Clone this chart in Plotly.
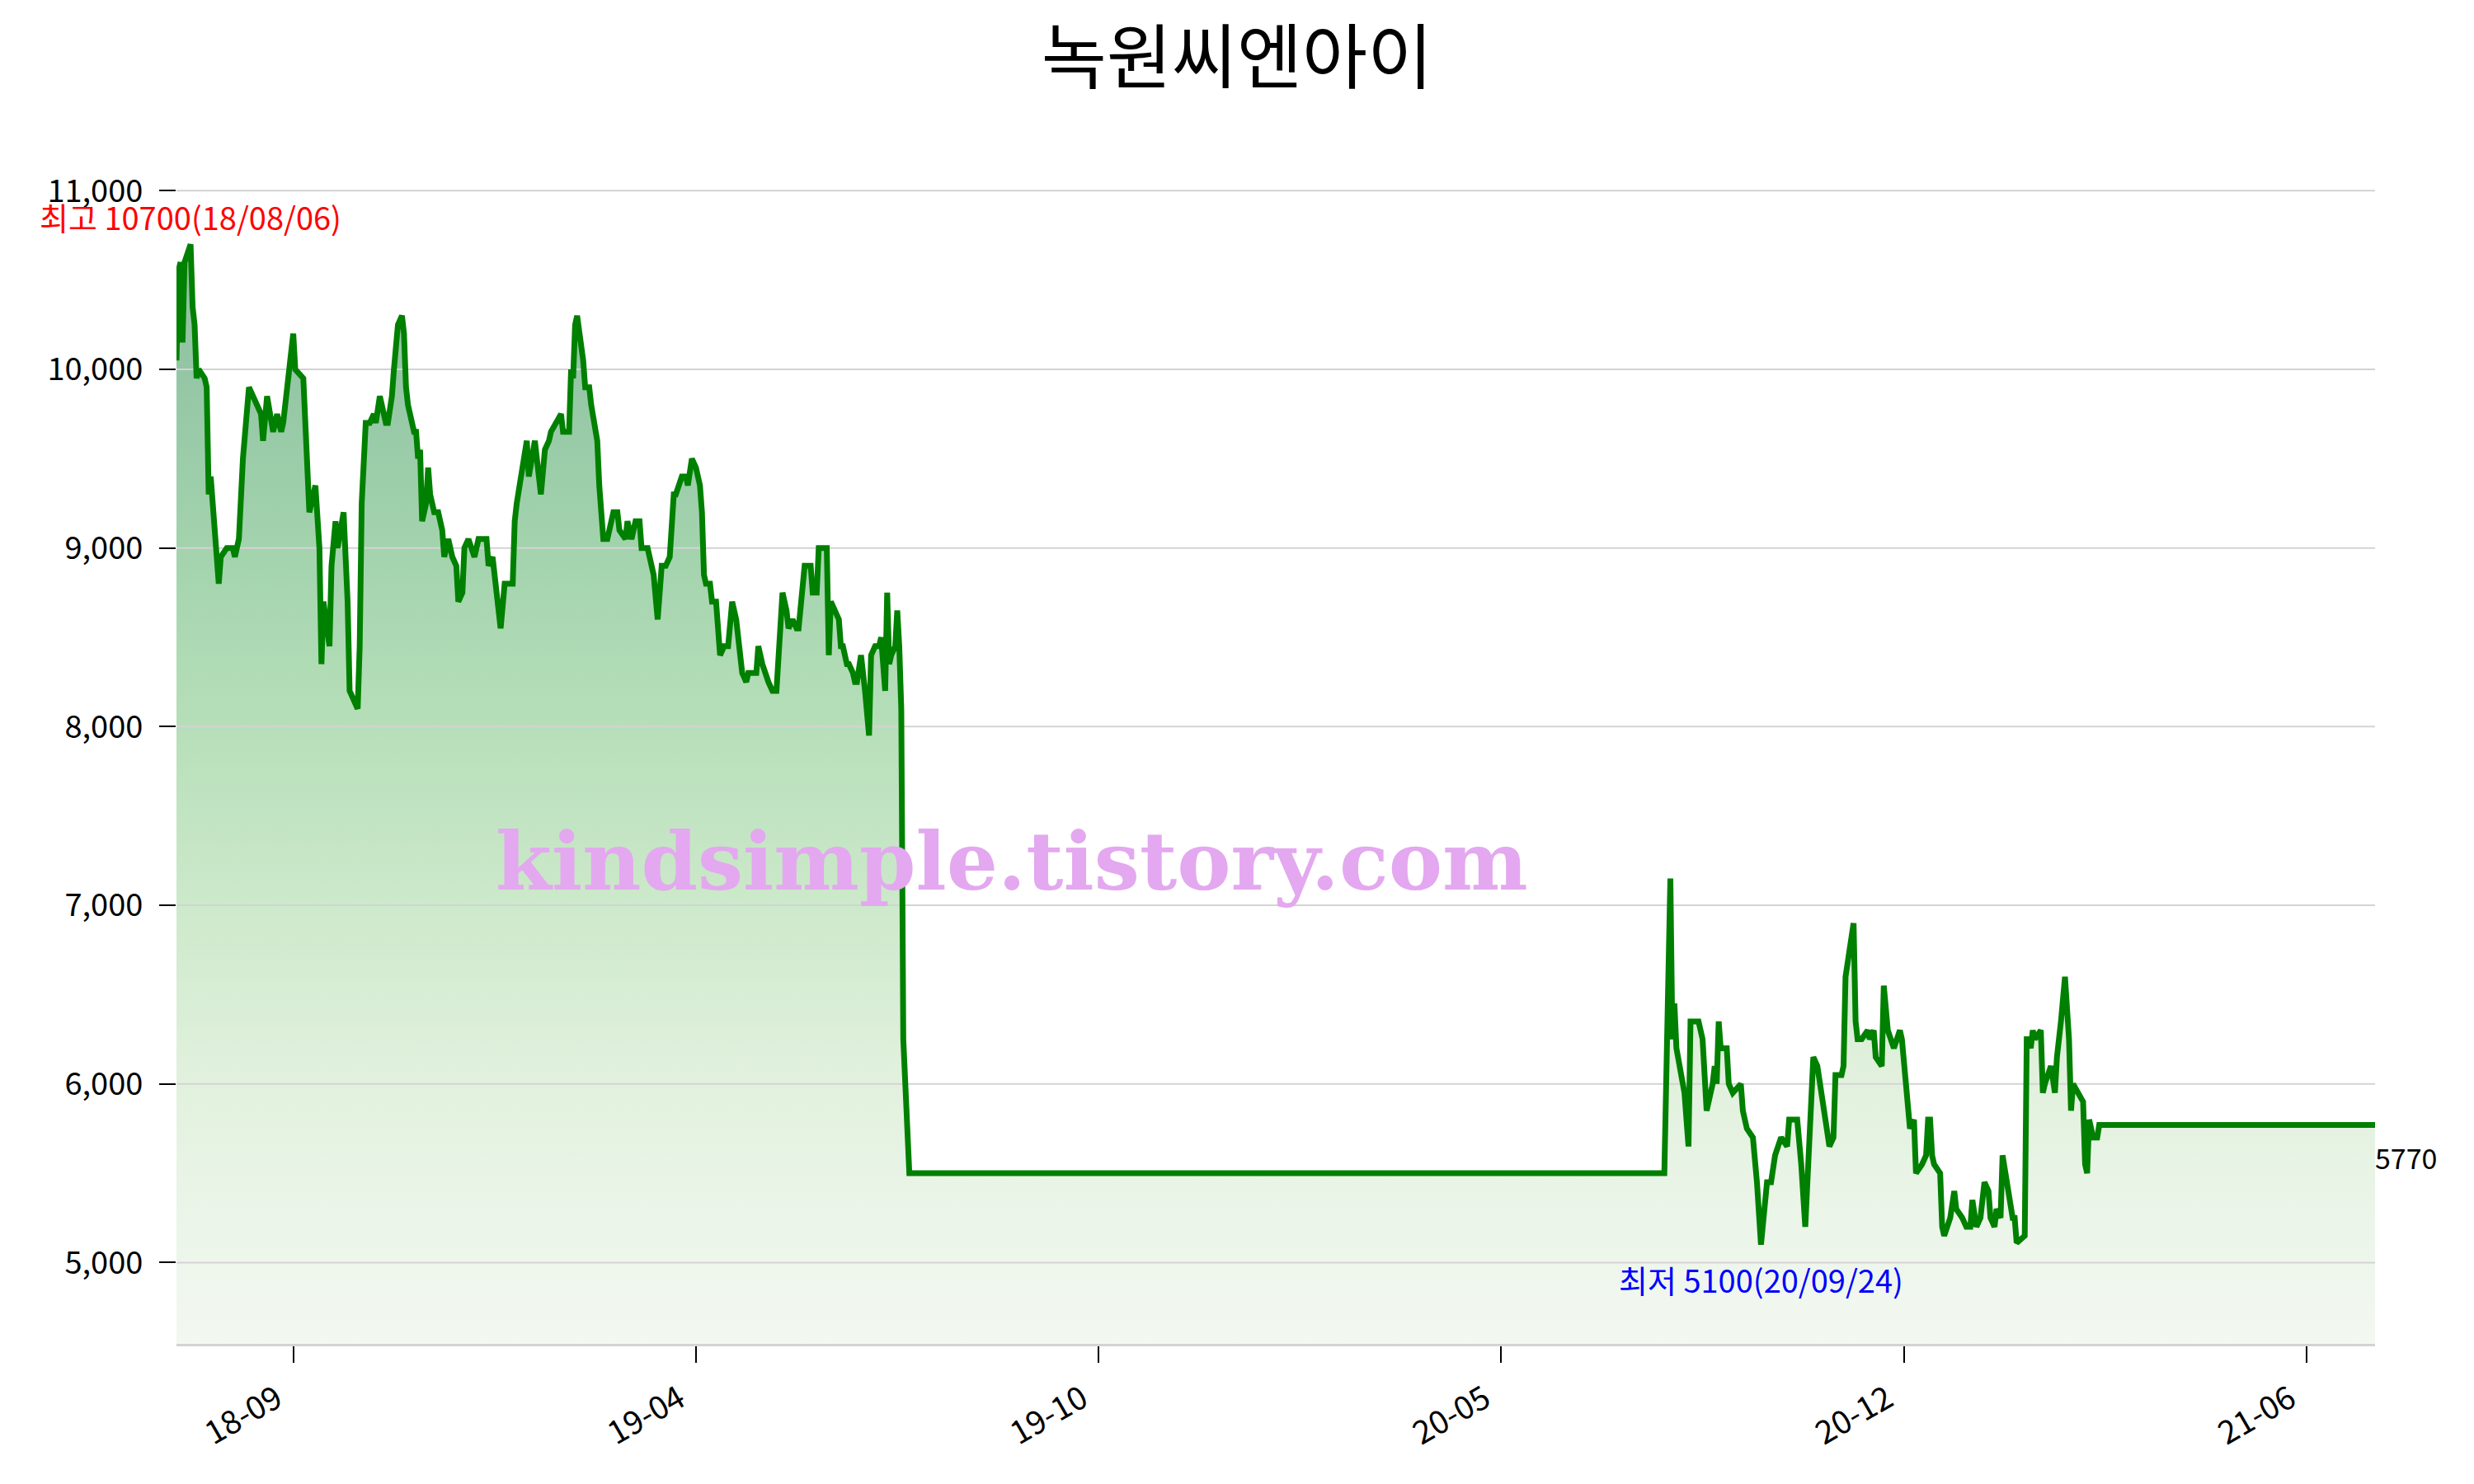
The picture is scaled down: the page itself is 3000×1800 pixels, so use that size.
import pandas as pd
import plotly.graph_objects as go

# ---------------- data ----------------
title_text = "녹원씨엔아이"
watermark_text = "kindsimple.tistory.com"
start_date = "2018-07-30"

# trading-day offsets (days since start_date)
day_offsets = [
    0, 1, 2, 3, 4, 7, 8, 9, 10, 11, 14, 15, 16, 17, 21, 22, 25, 28, 29, 31,
    33, 36, 38, 42, 43, 45, 48, 50, 52, 53, 56, 58, 59, 63, 64, 65, 66, 69, 71, 72,
    73, 76, 77, 79, 80, 83, 85, 86, 90, 91, 92, 94, 96, 98, 99, 101, 104, 105, 107, 108,
    110, 112, 113, 114, 115, 118, 119, 120, 121, 122, 124, 125, 126, 128, 130, 132, 133, 135, 137, 139,
    140, 142, 143, 145, 148, 150, 154, 155, 157, 161, 163, 167, 168, 169, 171, 174, 175, 178, 181, 183,
    185, 186, 191, 192, 195, 196, 197, 198, 199, 202, 203, 205, 206, 209, 210, 212, 214, 217, 219, 220,
    223, 224, 226, 228, 230, 231, 234, 236, 237, 239, 241, 243, 245, 247, 248, 251, 253, 254, 255, 256,
    258, 260, 261, 262, 263, 264, 265, 266, 268, 270, 272, 274, 276, 278, 280, 281, 283, 284, 286, 288,
    289, 291, 294, 296, 298, 301, 303, 304, 306, 308, 309, 312, 315, 316, 318, 319, 321, 323, 324, 325,
    327, 329, 330, 331, 333, 334, 336, 337, 338, 340, 342, 344, 345, 347, 349, 350, 351, 352, 353, 354,
    355, 357, 358, 359, 360, 361, 364, 739,
    742, 743, 744, 745, 749, 751, 752, 755, 756, 758, 760, 763, 764, 765, 766, 767, 770, 771, 773, 777,
    778, 780, 783, 785, 787, 790, 792, 794, 797, 800, 801, 805, 807, 809, 813, 815, 821, 823, 824, 827,
    828, 829, 833, 834, 835, 837, 840, 841, 843, 844, 847, 848, 850, 853, 856, 857, 861, 863, 864, 867,
    869, 870, 871, 872, 873, 876, 877, 878, 881, 883, 884, 887, 889, 891, 892, 894, 896, 898, 900, 901,
    903, 904, 906, 907, 909, 911, 912, 913, 914, 918, 919, 920, 921, 922, 923, 926, 927, 928, 931, 933,
    934, 936, 938, 940, 941, 942, 947, 948, 949, 950, 952, 954, 955, 1092,
]

close_prices = [
    10050, 10550, 10600, 10150, 10600, 10700, 10350, 10250, 9950, 10000, 9950, 9900, 9300, 9400, 8800, 8950, 9000, 9000, 8950, 9050,
    9500, 9900, 9850, 9750, 9600, 9850, 9650, 9750, 9650, 9700, 10000, 10200, 10000, 9950, 9700, 9450, 9200, 9350, 9000, 8350,
    8700, 8450, 8900, 9150, 9000, 9200, 8700, 8200, 8100, 8450, 9250, 9700, 9700, 9750, 9700, 9850, 9700, 9700, 9850, 10000,
    10250, 10300, 10200, 9900, 9800, 9650, 9650, 9500, 9550, 9150, 9250, 9450, 9300, 9200, 9200, 9100, 8950, 9050, 8950, 8900,
    8700, 8750, 9000, 9050, 8950, 9050, 9050, 8900, 8950, 8550, 8800, 8800, 9150, 9250, 9400, 9600, 9400, 9600, 9300, 9550,
    9600, 9650, 9750, 9650, 9650, 10000, 9950, 10250, 10300, 10050, 9900, 9900, 9800, 9600, 9350, 9050, 9050, 9200, 9200, 9100,
    9050, 9150, 9050, 9150, 9150, 9000, 9000, 8900, 8850, 8600, 8900, 8900, 8950, 9300, 9300, 9400, 9400, 9350, 9450, 9500,
    9450, 9350, 9200, 8850, 8800, 8800, 8800, 8700, 8700, 8400, 8450, 8450, 8700, 8600, 8400, 8300, 8250, 8300, 8300, 8300,
    8450, 8350, 8250, 8200, 8200, 8750, 8650, 8550, 8600, 8550, 8550, 8900, 8900, 8750, 8750, 9000, 9000, 9000, 8400, 8700,
    8650, 8600, 8450, 8450, 8350, 8350, 8300, 8250, 8250, 8400, 8200, 7950, 8400, 8450, 8450, 8500, 8350, 8200, 8750, 8350,
    8400, 8450, 8650, 8450, 8100, 6250, 5500, 5500,
    7150, 6250, 6450, 6200, 5950, 5650, 6350, 6350, 6350, 6250, 5850, 6000, 6100, 6000, 6350, 6200, 6200, 6000, 5950, 6000,
    5850, 5750, 5700, 5450, 5100, 5450, 5450, 5600, 5700, 5650, 5800, 5800, 5550, 5200, 6150, 6100, 5650, 5700, 6050, 6050,
    6100, 6600, 6900, 6350, 6250, 6250, 6300, 6250, 6300, 6150, 6100, 6550, 6300, 6200, 6300, 6250, 5750, 5800, 5500, 5550,
    5600, 5800, 5800, 5600, 5550, 5500, 5200, 5150, 5250, 5400, 5300, 5250, 5200, 5200, 5350, 5200, 5250, 5450, 5400, 5250,
    5200, 5300, 5250, 5600, 5450, 5350, 5250, 5250, 5110, 5150, 6250, 6250, 6200, 6300, 6250, 6300, 5950, 6000, 6100, 5950,
    6150, 6350, 6600, 6250, 5850, 6000, 5900, 5550, 5500, 5800, 5700, 5700, 5770, 5770,
]

ytick_values = [5000, 6000, 7000, 8000, 9000, 10000, 11000]
y_range = [4545, 11020]
xtick_start = "2018-09-26"
xtick_step_days = 200
xtick_count = 6

# ---------------- derived ----------------
dates = pd.Timestamp(start_date) + pd.to_timedelta(day_offsets, unit="D")
xtick_dates = pd.date_range(xtick_start, periods=xtick_count, freq=f"{xtick_step_days}D")

imax = max(range(len(close_prices)), key=lambda i: close_prices[i])
imin = min(range(len(close_prices)), key=lambda i: close_prices[i])

FONT = "Noto Sans CJK KR"
fill_scale = [
    [0.0, "rgb(243,248,241)"],
    [0.074, "rgb(238,246,236)"],
    [0.236, "rgb(226,241,222)"],
    [0.399, "rgb(205,233,203)"],
    [0.561, "rgb(182,223,185)"],
    [0.724, "rgb(162,211,173)"],
    [0.886, "rgb(148,198,165)"],
    [1.0, "rgb(142,192,161)"],
]

fig = go.Figure()

# gradient fill under the curve
fig.add_trace(go.Scatter(
    x=dates, y=close_prices, mode="lines",
    line=dict(width=0, color="rgba(0,0,0,0)"),
    fill="tozeroy",
    fillgradient=dict(type="vertical", colorscale=fill_scale,
                      start=y_range[0], stop=max(close_prices)),
    hoverinfo="skip", showlegend=False,
))

# horizontal grid lines drawn above the fill, below the price line
gx, gy = [], []
for v in ytick_values:
    gx += [dates[0], dates[-1], None]
    gy += [v, v, None]
fig.add_trace(go.Scatter(
    x=gx, y=gy, mode="lines",
    line=dict(color="#d3d3d3", width=2),
    hoverinfo="skip", showlegend=False,
))

# price line
fig.add_trace(go.Scatter(
    x=dates, y=close_prices, mode="lines",
    line=dict(color="#008000", width=7),
    showlegend=False,
))

annotations = [
    dict(x=dates[imax], y=close_prices[imax],
         text=f"최고 {close_prices[imax]}({dates[imax]:%y/%m/%d})",
         showarrow=False, xanchor="center", yanchor="bottom", yshift=4,
         font=dict(family=FONT, size=38, color="red")),
    dict(x=dates[imin], y=close_prices[imin],
         text=f"최저 {close_prices[imin]}({dates[imin]:%y/%m/%d})",
         showarrow=False, xanchor="center", yanchor="top", yshift=-12,
         font=dict(family=FONT, size=38, color="blue")),
    dict(x=dates[-1], y=close_prices[-1], text=f"{close_prices[-1]}",
         showarrow=False, xanchor="left", yanchor="top", yshift=-12, xshift=-2,
         font=dict(family=FONT, size=34, color="black")),
    dict(xref="paper", yref="paper", x=0.38, y=0.417,
         text=f"<b>{watermark_text}</b>", showarrow=False,
         xanchor="center", yanchor="middle",
         font=dict(family="DejaVu Serif", size=98, color="#E3A8EF")),
]

fig.update_layout(
    width=3000, height=1800,
    margin=dict(l=214, r=120, t=227, b=170),
    paper_bgcolor="white", plot_bgcolor="white",
    title=dict(text=title_text, x=0.5, xref="container", xanchor="center",
               y=1 - 71 / 1800, yref="container", yanchor="middle",
               font=dict(family=FONT, size=86, color="black")),
    font=dict(family=FONT, color="black"),
    annotations=annotations,
    showlegend=False,
)

fig.update_xaxes(
    type="date", range=[dates[0], dates[-1]],
    tickvals=xtick_dates, tickformat="%y-%m", tickangle=-30,
    ticks="outside", ticklen=20, tickwidth=1.5, tickcolor="black",
    showline=True, linecolor="#d3d3d3", linewidth=3,
    showgrid=False, zeroline=False,
    ticklabelshift=-20, ticklabelstandoff=6,
    tickfont=dict(family=FONT, size=39, color="black"),
)
fig.update_yaxes(
    range=y_range, tickvals=ytick_values, tickformat=",d",
    ticks="outside", ticklen=20, tickwidth=1.5, tickcolor="black",
    showline=False, showgrid=False, zeroline=False,
    ticklabelstandoff=12,
    tickfont=dict(family=FONT, size=38, color="black"),
)

fig.write_html("out.html", config={"displayModeBar": False},
               post_script="document.body.style.margin='0';")
